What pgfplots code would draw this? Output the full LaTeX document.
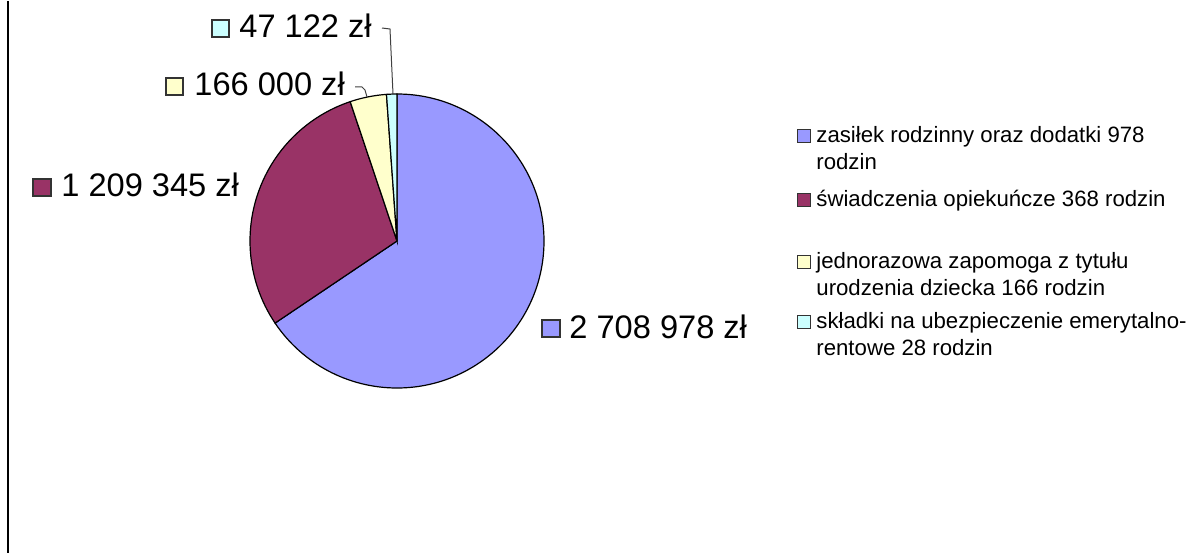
\documentclass[border=0pt]{standalone}
\usepackage{pgfplots}
\usepackage{pgfplotstable}
\usepackage{fontspec}
\setmainfont{Liberation Sans}
\pgfplotsset{compat=1.18}

\definecolor{pBlue}{HTML}{9999FF}
\definecolor{pMaroon}{HTML}{993366}
\definecolor{pYellow}{HTML}{FFFFCC}
\definecolor{pCyan}{HTML}{CCFFFF}

% kwoty w zl, kolejnosc jak na wykresie (od godziny 12, zgodnie z zegarem)
\pgfplotstableread{
value
2708978
1209345
166000
47122
}\piedata

\newcommand\lab{\fontsize{16.3bp}{18bp}\selectfont}
\newcommand\leg{\fontsize{11.1bp}{13.5bp}\selectfont}

\begin{document}
\begin{tikzpicture}
\pgfplotstablegetelem{0}{value}\of\piedata\edef\vA{\pgfplotsretval}
\pgfplotstablegetelem{1}{value}\of\piedata\edef\vB{\pgfplotsretval}
\pgfplotstablegetelem{2}{value}\of\piedata\edef\vC{\pgfplotsretval}
\pgfplotstablegetelem{3}{value}\of\piedata\edef\vD{\pgfplotsretval}
\edef\tot{\fpeval{\vA+\vB+\vC+\vD}}
\edef\bA{90}
\edef\bB{\fpeval{\bA-360*\vA/\tot}}
\edef\bC{\fpeval{\bB-360*\vB/\tot}}
\edef\bD{\fpeval{\bC-360*\vC/\tot}}
\edef\bE{\fpeval{\bD-360*\vD/\tot}}
\begin{axis}[hide axis,scale only axis,width=596bp,height=276bp,
	xmin=0,xmax=1192,ymin=0,ymax=552,y dir=reverse,clip=false]
\path (axis cs:0,0) rectangle (axis cs:1192,552);
\draw[line width=1bp] (axis cs:8,0) -- (axis cs:8,552);

% wycinki
\def\r{73.5bp}
\filldraw[fill=pBlue,draw=black,line width=0.6bp] (axis cs:397,240) -- ++(\bA:\r) arc[start angle=\bA,end angle=\bB,radius=\r] -- cycle;
\filldraw[fill=pMaroon,draw=black,line width=0.6bp] (axis cs:397,240) -- ++(\bB:\r) arc[start angle=\bB,end angle=\bC,radius=\r] -- cycle;
\filldraw[fill=pYellow,draw=black,line width=0.6bp] (axis cs:397,240) -- ++(\bC:\r) arc[start angle=\bC,end angle=\bD,radius=\r] -- cycle;
\filldraw[fill=pCyan,draw=black,line width=0.6bp] (axis cs:397,240) -- ++(\bD:\r) arc[start angle=\bD,end angle=\bE,radius=\r] -- cycle;

% etykiety
\draw[black!75,line width=0.5bp] (axis cs:382,27) -- (axis cs:390,28) -- (axis cs:393,93);
\draw[black!75,line width=0.5bp] (axis cs:355,86) -- (axis cs:362,86) -- (axis cs:365,89) -- (axis cs:367,96);
\filldraw[fill=pCyan,draw=black!80,line width=0.6bp] (axis cs:212,19) rectangle (axis cs:229,36);
\node[anchor=base west,inner sep=0pt] at (axis cs:239,37) {\lab 47 122 zł};
\filldraw[fill=pYellow,draw=black!80,line width=0.6bp] (axis cs:166,77) rectangle (axis cs:183,94);
\node[anchor=base west,inner sep=0pt] at (axis cs:194,94) {\lab 166 000 zł};
\filldraw[fill=pMaroon,draw=black!80,line width=0.6bp] (axis cs:33,178) rectangle (axis cs:51,195);
\node[anchor=base west,inner sep=0pt] at (axis cs:61,195) {\lab 1 209 345 zł};
\filldraw[fill=pBlue,draw=black!80,line width=0.6bp] (axis cs:542,319) rectangle (axis cs:560,336);
\node[anchor=base west,inner sep=0pt] at (axis cs:569,337) {\lab 2 708 978 zł};

% legenda
\filldraw[fill=pBlue,draw=black!80,line width=0.5bp] (axis cs:797,128) rectangle (axis cs:810,141);
\node[anchor=base west,inner sep=0pt] at (axis cs:816,141) {\leg zasiłek rodzinny oraz dodatki 978};
\node[anchor=base west,inner sep=0pt] at (axis cs:816,168) {\leg rodzin};
\filldraw[fill=pMaroon,draw=black!80,line width=0.5bp] (axis cs:797,192) rectangle (axis cs:810,205);
\node[anchor=base west,inner sep=0pt] at (axis cs:816,205) {\leg świadczenia opiekuńcze 368 rodzin};
\filldraw[fill=pYellow,draw=black!80,line width=0.5bp] (axis cs:797,254) rectangle (axis cs:810,267);
\node[anchor=base west,inner sep=0pt] at (axis cs:816,267) {\leg jednorazowa zapomoga z tytułu};
\node[anchor=base west,inner sep=0pt] at (axis cs:816,294) {\leg urodzenia dziecka 166 rodzin};
\filldraw[fill=pCyan,draw=black!80,line width=0.5bp] (axis cs:797,314) rectangle (axis cs:810,327);
\node[anchor=base west,inner sep=0pt] at (axis cs:816,327) {\leg składki na ubezpieczenie emerytalno-};
\node[anchor=base west,inner sep=0pt] at (axis cs:816,354) {\leg rentowe 28 rodzin};
\end{axis}
\end{tikzpicture}
\end{document}
